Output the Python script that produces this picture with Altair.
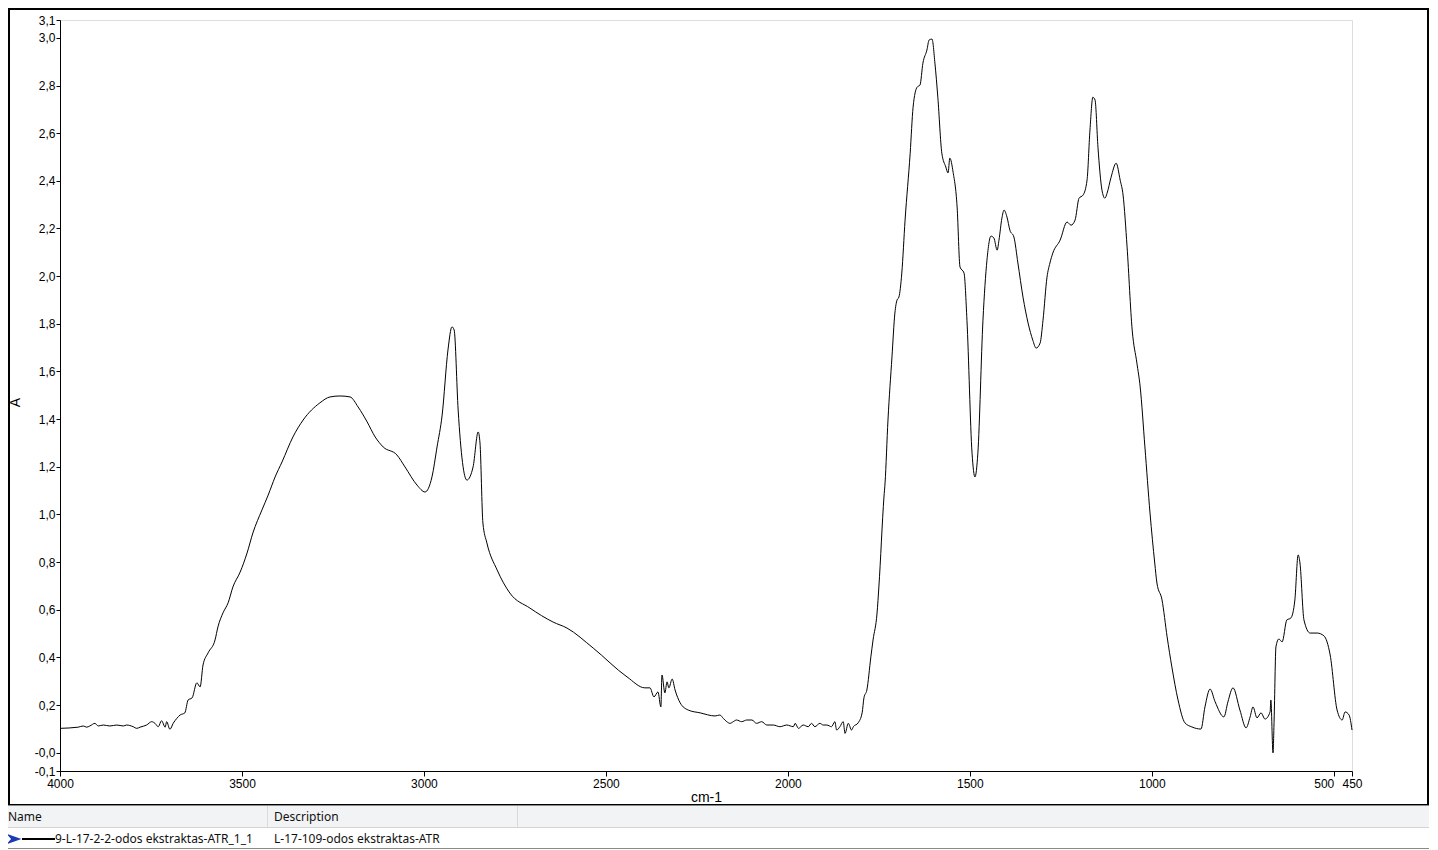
import altair as alt
import pandas as pd

# ---- spectrum data ----
wavenumber = [4000, 3950, 3936, 3927, 3918, 3904, 3895, 3881, 3863, 3844, 3826, 3817, 3799, 3789,
              3780, 3762, 3748, 3739, 3730, 3721, 3711, 3707, 3698, 3689, 3679,
              3670, 3657, 3648, 3637, 3624, 3615, 3607, 3593, 3574, 3566, 3552, 3538, 3525, 3505,
              3486, 3470, 3445, 3428, 3409, 3390, 3360, 3332, 3286, 3258, 3231, 3203, 3181, 3156,
              3134, 3112, 3074, 3052, 3019, 2997, 2978, 2964, 2950, 2934, 2923, 2917, 2906, 2882,
              2865, 2851, 2846, 2838, 2827, 2799, 2764, 2709, 2645, 2607, 2535, 2442, 2393, 2379,
              2368, 2357, 2349, 2346, 2338, 2332, 2327, 2318, 2310, 2296, 2274, 2241, 2200, 2187,
              2177, 2168, 2159, 2150, 2141, 2127, 2113, 2099, 2086, 2072, 2058, 2040, 2022, 2003,
              1985, 1980, 1971, 1958, 1944, 1935, 1926, 1912, 1903, 1893, 1880, 1871, 1866, 1857,
              1848, 1843, 1834, 1825, 1820, 1807, 1796, 1791, 1783,
              1772, 1766, 1755, 1750, 1736, 1733, 1725, 1714, 1706, 1700, 1695, 1687, 1678, 1664,
              1656, 1645, 1637, 1629, 1618, 1612, 1604, 1596, 1588, 1577, 1566, 1560, 1555, 1546,
              1535, 1527, 1516, 1508, 1494, 1486, 1478, 1464, 1453, 1442, 1434, 1425, 1420, 1412,
              1406, 1398, 1390, 1379, 1368, 1354, 1340, 1327, 1318, 1307, 1299, 1288, 1280, 1272,
              1252, 1233, 1222, 1211, 1200, 1189, 1178, 1170, 1162, 1156, 1148, 1137, 1129, 1123,
              1112, 1098, 1087, 1079, 1068, 1054, 1041, 1032, 1019, 1005, 992, 986, 972, 958,
              945, 928, 909, 890, 865, 854, 840, 826, 802, 791, 777, 758, 741, 730,
              722, 711, 700, 689, 675, 673, 667, 664, 659, 651, 642, 629, 618, 607,
              598, 593, 582, 565, 546, 527, 510, 491, 477, 469, 458, 450]
absorbance = [0.102, 0.107, 0.112, 0.107, 0.112, 0.123, 0.112, 0.116, 0.112, 0.116, 0.112, 0.116, 0.109, 0.102,
              0.107, 0.116, 0.130, 0.123, 0.109, 0.134, 0.107, 0.130, 0.098, 0.123, 0.144,
              0.158, 0.167, 0.221, 0.230, 0.293, 0.276, 0.368, 0.419, 0.473, 0.528, 0.587, 0.629, 0.695, 0.758,
              0.838, 0.922, 1.019, 1.081, 1.157, 1.220, 1.325, 1.396, 1.468, 1.493, 1.497, 1.493, 1.451, 1.388,
              1.325, 1.283, 1.249, 1.199, 1.123, 1.094, 1.157, 1.283, 1.417, 1.690, 1.787, 1.774, 1.438, 1.144,
              1.199, 1.346, 1.300, 0.964, 0.880, 0.767, 0.670, 0.607, 0.548, 0.523, 0.439, 0.318, 0.272, 0.272,
              0.234, 0.255, 0.192, 0.326, 0.251, 0.297, 0.272, 0.309, 0.263, 0.209, 0.179, 0.167, 0.154, 0.158,
              0.143, 0.130, 0.123, 0.130, 0.137, 0.130, 0.137, 0.137, 0.123, 0.130, 0.116, 0.116, 0.109, 0.116,
              0.109, 0.123, 0.102, 0.116, 0.109, 0.123, 0.109, 0.123, 0.116, 0.116, 0.109, 0.130, 0.095, 0.109,
              0.130, 0.081, 0.123, 0.095, 0.109, 0.125, 0.167, 0.230, 0.263,
              0.402, 0.473, 0.586, 0.695, 1.073, 1.132, 1.396, 1.661, 1.845, 1.900, 1.912, 2.013, 2.235, 2.516,
              2.709, 2.793, 2.802, 2.894, 2.949, 2.991, 2.995, 2.894, 2.751, 2.516, 2.458, 2.433, 2.495, 2.436,
              2.290, 2.038, 2.013, 1.815, 1.257, 1.157, 1.257, 1.815, 2.067, 2.168, 2.160, 2.109, 2.151, 2.243,
              2.277, 2.248, 2.193, 2.164, 2.055, 1.912, 1.803, 1.731, 1.698, 1.719, 1.815, 1.996, 2.055, 2.097,
              2.151, 2.227, 2.214, 2.235, 2.327, 2.340, 2.403, 2.613, 2.751, 2.739, 2.541, 2.361, 2.327, 2.348,
              2.415, 2.474, 2.403, 2.340, 2.122, 1.774, 1.635, 1.535, 1.283, 1.006, 0.796, 0.712, 0.641, 0.486,
              0.360, 0.221, 0.125, 0.108, 0.099, 0.192, 0.267, 0.213, 0.150, 0.213, 0.272, 0.179, 0.104, 0.150,
              0.192, 0.146, 0.167, 0.141, 0.171, 0.221, -0.001, 0.137, 0.444, 0.477, 0.465, 0.557, 0.565, 0.641,
              0.830, 0.796, 0.557, 0.502, 0.502, 0.490, 0.410, 0.179, 0.137, 0.171, 0.158, 0.095]

# ---- axes ----
x_domain = [4000, 450]
x_ticks = [4000, 3500, 3000, 2500, 2000, 1500, 1000, 500, 450]
y_domain = [-0.077, 3.075]
y_ticks = [-0.077, 0.0, 0.2, 0.4, 0.6, 0.8, 1.0, 1.2, 1.4, 1.6, 1.8, 2.0, 2.2, 2.4, 2.6, 2.8, 3.0, 3.075]
y_tick_labels = ["-0,1", "-0,0", "0,2", "0,4", "0,6", "0,8", "1,0", "1,2", "1,4", "1,6", "1,8",
                 "2,0", "2,2", "2,4", "2,6", "2,8", "3,0", "3,1"]
x_title = "cm-1"
y_title = "A"

# ---- legend table ----
table_headers = ["Name", "Description"]
series_name = ["9-L-17-2-2-odos ekstraktas-ATR_1_1"]
series_desc = ["L-17-109-odos ekstraktas-ATR"]

W, H = 1292, 751
FONT = "Liberation Sans"
UI_FONT = "Noto Sans"

df = pd.DataFrame({"wn": wavenumber, "A": absorbance})

label_expr = " : ".join(
    [f"abs(datum.value - ({v})) < 0.001 ? '{l}'" for v, l in zip(y_ticks, y_tick_labels)]
) + " : ''"

line = alt.Chart(df).mark_line(color="black", strokeWidth=1, interpolate="monotone").encode(
    x=alt.X("wn:Q", scale=alt.Scale(domain=x_domain, nice=False, zero=False),
            axis=alt.Axis(values=x_ticks, format="d", grid=False, labelOverlap=False,
                          labelFlush=False, domainColor="black", tickColor="black", tickSize=5,
                          labelColor="black", labelFont=FONT, labelFontSize=12, labelPadding=2,
                          labelAlign={"expr": "datum.value == 500 ? 'right' : 'center'"},
                          title=x_title, titleFont=FONT, titleFontSize=14, titleFontWeight="normal",
                          titleColor="black", titleX=W / 2, titleY=26, titleBaseline="middle")),
    y=alt.Y("A:Q", scale=alt.Scale(domain=y_domain, nice=False, zero=False),
            axis=alt.Axis(values=y_ticks, labelExpr=label_expr, grid=False, labelOverlap=False,
                          labelFlush=False, domainColor="black", tickColor="black", tickSize=4,
                          labelColor="black", labelFont=FONT, labelFontSize=12, labelPadding=1,
                          title=y_title, titleFont=FONT, titleFontSize=14, titleFontWeight="normal",
                          titleColor="black", titleX=-45, titleY=382, titleBaseline="middle")),
)

one = pd.DataFrame({"k": [0]})


def rule(x1, x2, y1, y2, color, width=1):
    return alt.Chart(one).mark_rule(color=color, strokeWidth=width).encode(
        x=alt.value(x1), x2=alt.value(x2), y=alt.value(y1), y2=alt.value(y2))


def text(t, x, y, size=12, font=UI_FONT):
    return alt.Chart(pd.DataFrame({"t": [t]})).mark_text(
        align="left", baseline="middle", font=font, fontSize=size, color="#111111"
    ).encode(x=alt.value(x), y=alt.value(y), text="t:N")


frame = alt.Chart(one).mark_rect(fill="white", fillOpacity=0, stroke="black", strokeWidth=2).encode(
    x=alt.value(-51), x2=alt.value(1368), y=alt.value(-11), y2=alt.value(785))

header_bg = alt.Chart(one).mark_rect(fill="#f2f3f5").encode(
    x=alt.value(-52), x2=alt.value(1369), y=alt.value(786), y2=alt.value(807))

arrow = alt.Chart(one).mark_point(shape="M-1,-0.7L1,0L-1,0.7L-0.4,0Z", filled=True, color="#1d3bb0",
                                  size=220, opacity=1).encode(x=alt.value(-46), y=alt.value(819))

layers = [
    line,
    frame,
    header_bg,
    rule(-52, 1369, 785.5, 785.5, "#8a8a8a"),
    rule(-52, 1369, 807.5, 807.5, "#d4d4d4"),
    rule(207.5, 207.5, 786, 807, "#dadada"),
    rule(457.5, 457.5, 786, 807, "#dadada"),
    rule(-52, 1369, 828.5, 828.5, "#8a8a8a"),
    text(table_headers[0], -52, 797),
    text(table_headers[1], 214, 797),
    arrow,
    rule(-38, -5, 819, 819, "black", 2),
    text(series_name[0], -5, 819),
    text(series_desc[0], 214, 819),
]

chart = alt.layer(*layers).properties(
    width=W, height=H,
    autosize=alt.AutoSizeParams(type="none"),
    padding={"left": 52, "top": 12, "right": 77, "bottom": 79},
).configure_view(stroke="transparent").configure(background="white")

chart.save("out.html", embed_options={"renderer": "svg", "actions": False})
